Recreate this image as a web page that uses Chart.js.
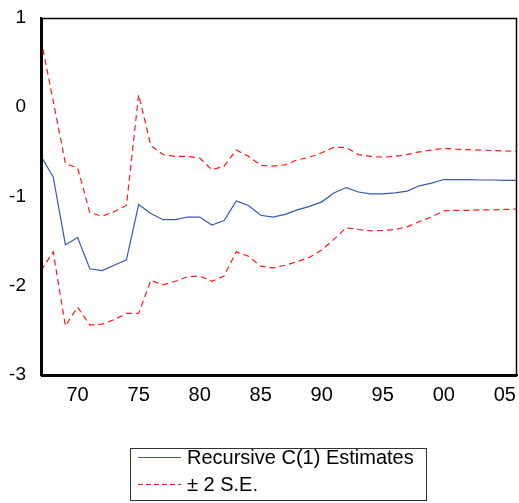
<!DOCTYPE html>
<html>
<head>
<meta charset="utf-8">
<script src="https://cdn.jsdelivr.net/npm/chart.js@4.4.1/dist/chart.umd.min.js"></script>
<style>
html,body{margin:0;padding:0;background:#fff;}
#wrap{width:519px;height:503px;position:relative;}
</style>
</head>
<body>
<div id="wrap"><canvas id="c" width="519" height="503"></canvas></div>
<script>
const years = [];
for (let y = 1967; y <= 2006; y++) years.push(y);

const estimates = [-0.55,-0.78,-1.54,-1.46,-1.81,-1.83,-1.77,-1.71,-1.09,-1.19,
  -1.26,-1.26,-1.23,-1.23,-1.32,-1.27,-1.05,-1.10,-1.21,-1.23,
  -1.20,-1.15,-1.11,-1.06,-0.96,-0.90,-0.95,-0.97,-0.97,-0.96,
  -0.94,-0.88,-0.85,-0.81,-0.81,-0.81,-0.815,-0.815,-0.82,-0.82];

const upperSE = [0.76,0.07,-0.63,-0.68,-1.18,-1.22,-1.17,-1.10,0.14,-0.43,
  -0.53,-0.55,-0.55,-0.57,-0.70,-0.66,-0.48,-0.55,-0.65,-0.66,
  -0.645,-0.59,-0.56,-0.51,-0.45,-0.45,-0.53,-0.55,-0.56,-0.55,
  -0.53,-0.50,-0.48,-0.46,-0.47,-0.475,-0.48,-0.485,-0.49,-0.495];

const lowerSE = [-1.83,-1.62,-2.45,-2.24,-2.44,-2.43,-2.38,-2.31,-2.31,-1.94,
  -1.99,-1.95,-1.90,-1.89,-1.95,-1.89,-1.62,-1.67,-1.78,-1.80,
  -1.77,-1.73,-1.68,-1.60,-1.48,-1.35,-1.37,-1.385,-1.38,-1.37,
  -1.34,-1.28,-1.23,-1.16,-1.155,-1.155,-1.15,-1.15,-1.145,-1.14];

const xTickYears = [1970,1975,1980,1985,1990,1995,2000,2005];
const yTickValues = [-3,-2,-1,0,1];
const seriesLabels = ['Recursive C(1) Estimates', '\u00B1 2 S.E.'];

const BLUE = '#3a58b0';
const RED = '#ff1a1a';
const FONT = '"Liberation Sans", Arial, sans-serif';

function pts(vals){ return years.map((y,i)=>({x:y,y:vals[i]})); }

const framePlugin = {
  id:'frame',
  afterDraw(chart){
    const {ctx, chartArea:a} = chart;
    ctx.save();
    ctx.strokeStyle = '#000';
    ctx.lineWidth = 1.5;
    ctx.strokeRect(a.left+0.5, a.top+0.5, a.right-a.left-1, a.bottom-a.top);
    ctx.lineWidth = 2;
    ctx.beginPath();
    ctx.moveTo(a.left+1, a.top); ctx.lineTo(a.left+1, a.bottom+1);
    ctx.lineTo(a.right, a.bottom+1);
    ctx.stroke();
    // legend
    const bx = 130, by = 448, bw = 296, bh = 52;
    ctx.lineWidth = 1;
    ctx.strokeStyle = '#333';
    ctx.strokeRect(bx+0.5, by+0.5, bw, bh);
    ctx.font = '20px ' + FONT;
    ctx.fillStyle = '#000';
    ctx.textBaseline = 'middle';
    const ds = chart.data.datasets;
    const rows = [{ds:ds[0], y:457},{ds:ds[1], y:484}];
    rows.forEach(r=>{
      ctx.beginPath();
      ctx.strokeStyle = r.ds.borderColor;
      ctx.lineWidth = 1;
      ctx.setLineDash(r.ds.borderDash ? [5,3] : []);
      ctx.moveTo(138, r.y+0.5); ctx.lineTo(181, r.y+0.5);
      ctx.stroke();
      ctx.setLineDash([]);
      ctx.fillText(r.ds.label, 187, r.y+1);
    });
    ctx.restore();
  }
};

new Chart(document.getElementById('c'), {
  type:'line',
  data:{
    datasets:[
      {label:seriesLabels[0], data:pts(estimates), borderColor:BLUE, borderWidth:1.2, pointRadius:0, tension:0, fill:false},
      {label:seriesLabels[1], data:pts(upperSE), borderColor:RED, borderWidth:1.2, borderDash:[6,4], pointRadius:0, tension:0, fill:false},
      {label:'', data:pts(lowerSE), borderColor:RED, borderWidth:1.2, borderDash:[6,4], pointRadius:0, tension:0, fill:false}
    ]
  },
  options:{
    responsive:false,
    animation:false,
    devicePixelRatio:1,
    layout:{padding:{top:18,right:2,left:0,bottom:0}},
    plugins:{legend:{display:false}, tooltip:{enabled:false}},
    scales:{
      x:{
        type:'linear', min:1967, max:2006,
        afterBuildTicks(s){ s.ticks = xTickYears.map(v=>({value:v})); },
        afterFit(s){ s.height = 128; },
        grid:{display:false, drawTicks:true, tickLength:6, tickColor:'#444'},
        border:{display:true, color:'#000', width:2},
        ticks:{
          autoSkip:false, maxRotation:0, color:'#000', padding:2,
          font:{family:FONT, size:20},
          callback:(v)=> String(v%100).padStart(2,'0')
        }
      },
      y:{
        type:'linear', min:-3, max:1,
        afterBuildTicks(s){ s.ticks = yTickValues.map(v=>({value:v})); },
        afterFit(s){ s.width = 41; },
        grid:{display:false, drawTicks:true, tickLength:9, tickColor:'#555'},
        border:{display:true, color:'#000', width:2},
        ticks:{
          color:'#000', padding:6,
          font:{family:FONT, size:19},
          callback:(v)=> String(v)
        }
      }
    }
  },
  plugins:[framePlugin]
});
</script>
</body>
</html>
